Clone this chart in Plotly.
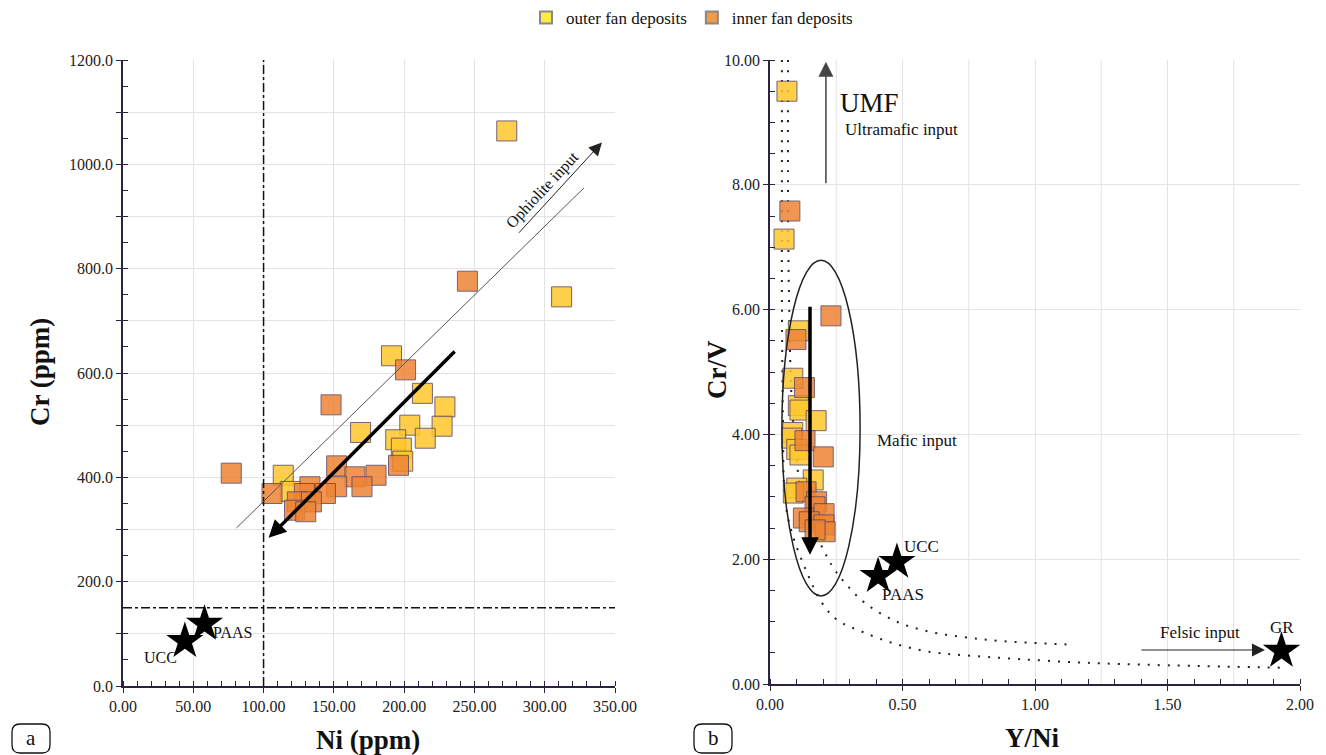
import plotly.graph_objects as go

# ---------------- data: panel (a) Ni vs Cr ----------------
ni_outer = [273, 312, 191, 213, 229, 169, 204, 227, 215, 194, 198, 199, 114, 119]
cr_outer = [1064, 746, 633, 561, 535, 486, 500, 498, 475, 472, 456, 431, 404, 373]
ni_inner = [77, 245, 201, 148, 196, 152, 165, 180, 170, 152, 106, 133, 144, 129, 124, 134, 122, 130]
cr_inner = [408, 776, 606, 539, 423, 422, 401, 404, 382, 382, 369, 382, 369, 369, 353, 353, 337, 334]
ref_names_a = ["PAAS", "UCC"]
ref_ni = [58, 44]
ref_cr = [119, 86]

# ---------------- data: panel (b) Y/Ni vs Cr/V ----------------
yni_outer = [0.064, 0.053, 0.107, 0.086, 0.107, 0.113, 0.174, 0.086, 0.082, 0.101, 0.113, 0.163, 0.101, 0.088]
crv_outer = [9.50, 7.13, 5.66, 4.90, 4.46, 4.39, 4.22, 4.03, 3.94, 3.76, 3.67, 3.27, 3.14, 3.06]
yni_inner = [0.075, 0.230, 0.098, 0.130, 0.132, 0.201, 0.136, 0.176, 0.170, 0.204, 0.126, 0.148, 0.204, 0.208, 0.170]
crv_inner = [7.58, 5.90, 5.52, 4.75, 3.90, 3.64, 3.08, 2.92, 2.84, 2.73, 2.66, 2.60, 2.55, 2.44, 2.47]
ref_names_b = ["UCC", "PAAS", "GR"]
ref_yni = [0.479, 0.408, 1.93]
ref_crv = [1.955, 1.73, 0.53]

# mixing curves
curveA_x = [0.068, 0.068, 0.072, 0.087, 0.132, 0.196, 0.238, 0.283, 0.358, 0.483, 0.611, 0.736, 0.868, 1.143]
curveA_y = [10.0, 8.0, 6.15, 4.23, 2.79, 2.20, 1.87, 1.62, 1.30, 0.99, 0.83, 0.75, 0.69, 0.63]
curveB_x = [0.045, 0.045, 0.045, 0.049, 0.057, 0.083, 0.140, 0.196, 0.253, 0.358, 0.483, 0.611, 0.736, 1.196, 1.951]
curveB_y = [10.0, 8.0, 6.15, 4.23, 2.95, 2.42, 1.78, 1.30, 1.03, 0.82, 0.63, 0.51, 0.46, 0.34, 0.26]

# tick values
a_xticks = [0, 50, 100, 150, 200, 250, 300, 350]
a_yticks = [0, 100, 200, 300, 400, 500, 600, 700, 800, 900, 1000, 1100, 1200]
a_ytext = ["0.0", "", "200.0", "", "400.0", "", "600.0", "", "800.0", "", "1000.0", "", "1200.0"]
b_xticks = [0, 0.5, 1.0, 1.5, 2.0]
b_xgrid = [0.25, 0.75, 1.25, 1.75]
b_yticks = [0, 2, 4, 6, 8, 10]

YELLOW = "#FFC72C"
ORANGE = "#EE8434"
EDGE = "#5e4a5e"
AXC = "#2b2340"
GRID = "#e3e3e3"
SERIF = "Liberation Serif, Times New Roman, serif"

W, H = 1326, 755
def px(x):
    return x / W
def py(y):
    return 1 - y / H

fig = go.Figure()

mk = dict(symbol="square", size=20, opacity=0.85, line=dict(color=EDGE, width=1))

fig.add_trace(go.Scatter(x=ni_outer, y=cr_outer, mode="markers", xaxis="x", yaxis="y",
                         marker=dict(color=YELLOW, **mk), showlegend=False))
fig.add_trace(go.Scatter(x=ni_inner, y=cr_inner, mode="markers", xaxis="x", yaxis="y",
                         marker=dict(color=ORANGE, **mk), showlegend=False))
fig.add_trace(go.Scatter(x=ref_ni, y=ref_cr, mode="markers", xaxis="x", yaxis="y",
                         marker=dict(symbol="star", size=28, color="black", line=dict(width=0)),
                         showlegend=False))

# panel b curves
dot = dict(color="#222", width=2, dash="2px,8px")
fig.add_trace(go.Scatter(x=curveA_x, y=curveA_y, mode="lines", line=dict(shape="spline", **dot),
                         xaxis="x2", yaxis="y2", showlegend=False))
fig.add_trace(go.Scatter(x=curveB_x, y=curveB_y, mode="lines", line=dict(shape="spline", **dot),
                         xaxis="x2", yaxis="y2", showlegend=False))
fig.add_trace(go.Scatter(x=yni_outer, y=crv_outer, mode="markers", xaxis="x2", yaxis="y2",
                         marker=dict(color=YELLOW, **mk), showlegend=False))
fig.add_trace(go.Scatter(x=yni_inner, y=crv_inner, mode="markers", xaxis="x2", yaxis="y2",
                         marker=dict(color=ORANGE, **mk), showlegend=False))
fig.add_trace(go.Scatter(x=ref_yni, y=ref_crv, mode="markers", xaxis="x2", yaxis="y2",
                         marker=dict(symbol="star", size=28, color="black", line=dict(width=0)),
                         showlegend=False))

# legend entries
fig.add_trace(go.Scatter(x=[None], y=[None], mode="markers", name="outer fan deposits",
                         marker=dict(symbol="square", size=14, color="#FFEB45", line=dict(color="#888", width=1))))
fig.add_trace(go.Scatter(x=[None], y=[None], mode="markers", name="inner fan deposits",
                         marker=dict(symbol="square", size=14, color="#F29A48", line=dict(color="#888", width=1))))

def axis(domain, rng, tickvals, ticktext, mdtick, anchor, size):
    return dict(domain=domain, range=rng, tickmode="array", tickvals=tickvals, ticktext=ticktext,
                anchor=anchor, automargin=False,
                showline=True, linecolor=AXC, linewidth=1.5, ticks="outside", ticklen=5,
                tickcolor=AXC, tickwidth=1.2, showgrid=True, gridcolor=GRID, gridwidth=1,
                zeroline=False, tickfont=dict(family=SERIF, size=size, color="#222"),
                minor=dict(dtick=mdtick, tick0=0, ticks="inside", ticklen=5, tickcolor=AXC,
                           tickwidth=1, showgrid=False))

xa = axis([px(123), px(615)], [0, 350], a_xticks, ["%.2f" % v for v in a_xticks], 10, "y", 16)
ya = axis([py(686), py(60)], [0, 1200], a_yticks, a_ytext, 50, "x", 16)
xb = axis([px(770), px(1300)], [0, 2], b_xticks, ["%.2f" % v for v in b_xticks], 0.1, "y2", 16)
yb = axis([py(684), py(60)], [0, 10], b_yticks, ["%.2f" % v for v in b_yticks], 0.5, "x2", 16)

shapes = []
annotations = []

# panel a reference lines
shapes.append(dict(type="line", xref="x", yref="y", x0=100, x1=100, y0=0, y1=1200,
                   line=dict(color="#111", width=1.5, dash="dashdot"), layer="above"))
shapes.append(dict(type="line", xref="x", yref="y", x0=0, x1=350, y0=150, y1=150,
                   line=dict(color="#111", width=1.5, dash="dashdot"), layer="above"))
shapes.append(dict(type="line", xref="x", yref="y", x0=80.7, x1=328, y0=303, y1=955,
                   line=dict(color="#555", width=1), layer="above"))
# extra grid lines on panel b x
for g in b_xgrid:
    shapes.append(dict(type="line", xref="x2", yref="y2", x0=g, x1=g, y0=0, y1=10,
                       line=dict(color=GRID, width=1), layer="below"))
# ellipse
shapes.append(dict(type="circle", xref="x2", yref="y2", x0=0.045, x1=0.34, y0=1.41, y1=6.79,
                   line=dict(color="#222", width=1.5), layer="above"))

# arrows
def arrow(xref, yref, x, y, axv, ayv, width, color, head=2, size=1.0):
    annotations.append(dict(xref=xref, yref=yref, x=x, y=y, ax=axv, ay=ayv, axref=xref, ayref=yref,
                            showarrow=True, arrowhead=head, arrowsize=size, arrowwidth=width,
                            arrowcolor=color, text=""))

arrow("x", "y", 103.6, 284, 237, 644, 3.5, "#000", 2, 1.0)
arrow("x", "y", 340.7, 1042, 280.7, 866, 1, "#222", 2, 2.6)
arrow("x2", "y2", 0.151, 2.07, 0.151, 6.07, 3.5, "#000", 2, 1.0)
arrow("x2", "y2", 0.211, 9.97, 0.211, 8.0, 1.5, "#444", 2, 2.0)
arrow("x2", "y2", 1.868, 0.545, 1.396, 0.545, 1, "#222", 2, 2.6)

def text(xref, yref, x, y, t, size, angle=0, bold=False):
    annotations.append(dict(xref=xref, yref=yref, x=x, y=y, text=("<b>%s</b>" % t) if bold else t,
                            showarrow=False, textangle=angle, xanchor="center", yanchor="middle",
                            font=dict(family=SERIF, size=size, color="#111")))

text("x", "y", 77.9, 103.5, "PAAS", 16)
text("x", "y", 26.4, 55.6, "UCC", 16)
text("x", "y", 298.6, 950, "Ophiolite input", 16, angle=-47)

text("x2", "y2", 0.377, 9.31, "UMF", 27)
text("x2", "y2", 0.498, 8.89, "Ultramafic input", 17)
text("x2", "y2", 0.555, 3.91, "Mafic input", 17)
text("x2", "y2", 0.570, 2.21, "UCC", 17)
text("x2", "y2", 0.502, 1.44, "PAAS", 17)
text("x2", "y2", 1.932, 0.91, "GR", 17)
text("x2", "y2", 1.623, 0.82, "Felsic input", 17)

# axis titles
text("paper", "paper", px(40), py(372), "Cr (ppm)", 27, angle=-90, bold=True)
text("paper", "paper", px(368), py(740), "Ni (ppm)", 27, bold=True)
text("paper", "paper", px(717), py(370), "Cr/V", 27, angle=-90, bold=True)
text("paper", "paper", px(1032), py(738), "Y/Ni", 27, bold=True)

# panel letters with rounded boxes
def rbox(x0, y0, x1, y1, r=8):
    X0, X1 = px(x0), px(x1)
    Y0, Y1 = py(y0), py(y1)
    rx, ry = r / W, r / H
    path = (f"M {X0+rx},{Y0} L {X1-rx},{Y0} Q {X1},{Y0} {X1},{Y0-ry} L {X1},{Y1+ry} "
            f"Q {X1},{Y1} {X1-rx},{Y1} L {X0+rx},{Y1} Q {X0},{Y1} {X0},{Y1+ry} L {X0},{Y0-ry} "
            f"Q {X0},{Y0} {X0+rx},{Y0} Z")
    shapes.append(dict(type="path", xref="paper", yref="paper", path=path,
                       line=dict(color="#111", width=1.3)))

rbox(12, 724, 50, 753)
rbox(694, 724, 732, 753)
text("paper", "paper", px(31), py(738), "a", 21)
text("paper", "paper", px(713), py(738), "b", 21)

fig.update_layout(
    template="none",
    width=W, height=H, margin=dict(l=0, r=0, t=0, b=0, pad=0, autoexpand=False),
    paper_bgcolor="white", plot_bgcolor="white",
    xaxis=xa, yaxis=ya, xaxis2=xb, yaxis2=yb,
    shapes=shapes, annotations=annotations,
    legend=dict(orientation="h", x=px(692), y=py(18), xanchor="center", yanchor="middle",
                font=dict(family=SERIF, size=17, color="#111"), itemsizing="constant",
                bgcolor="rgba(0,0,0,0)"),
    font=dict(family=SERIF),
)

fig.write_html("out.html", config={"displayModeBar": False},
               post_script="document.body.style.margin='0';document.documentElement.style.overflow='hidden';")
